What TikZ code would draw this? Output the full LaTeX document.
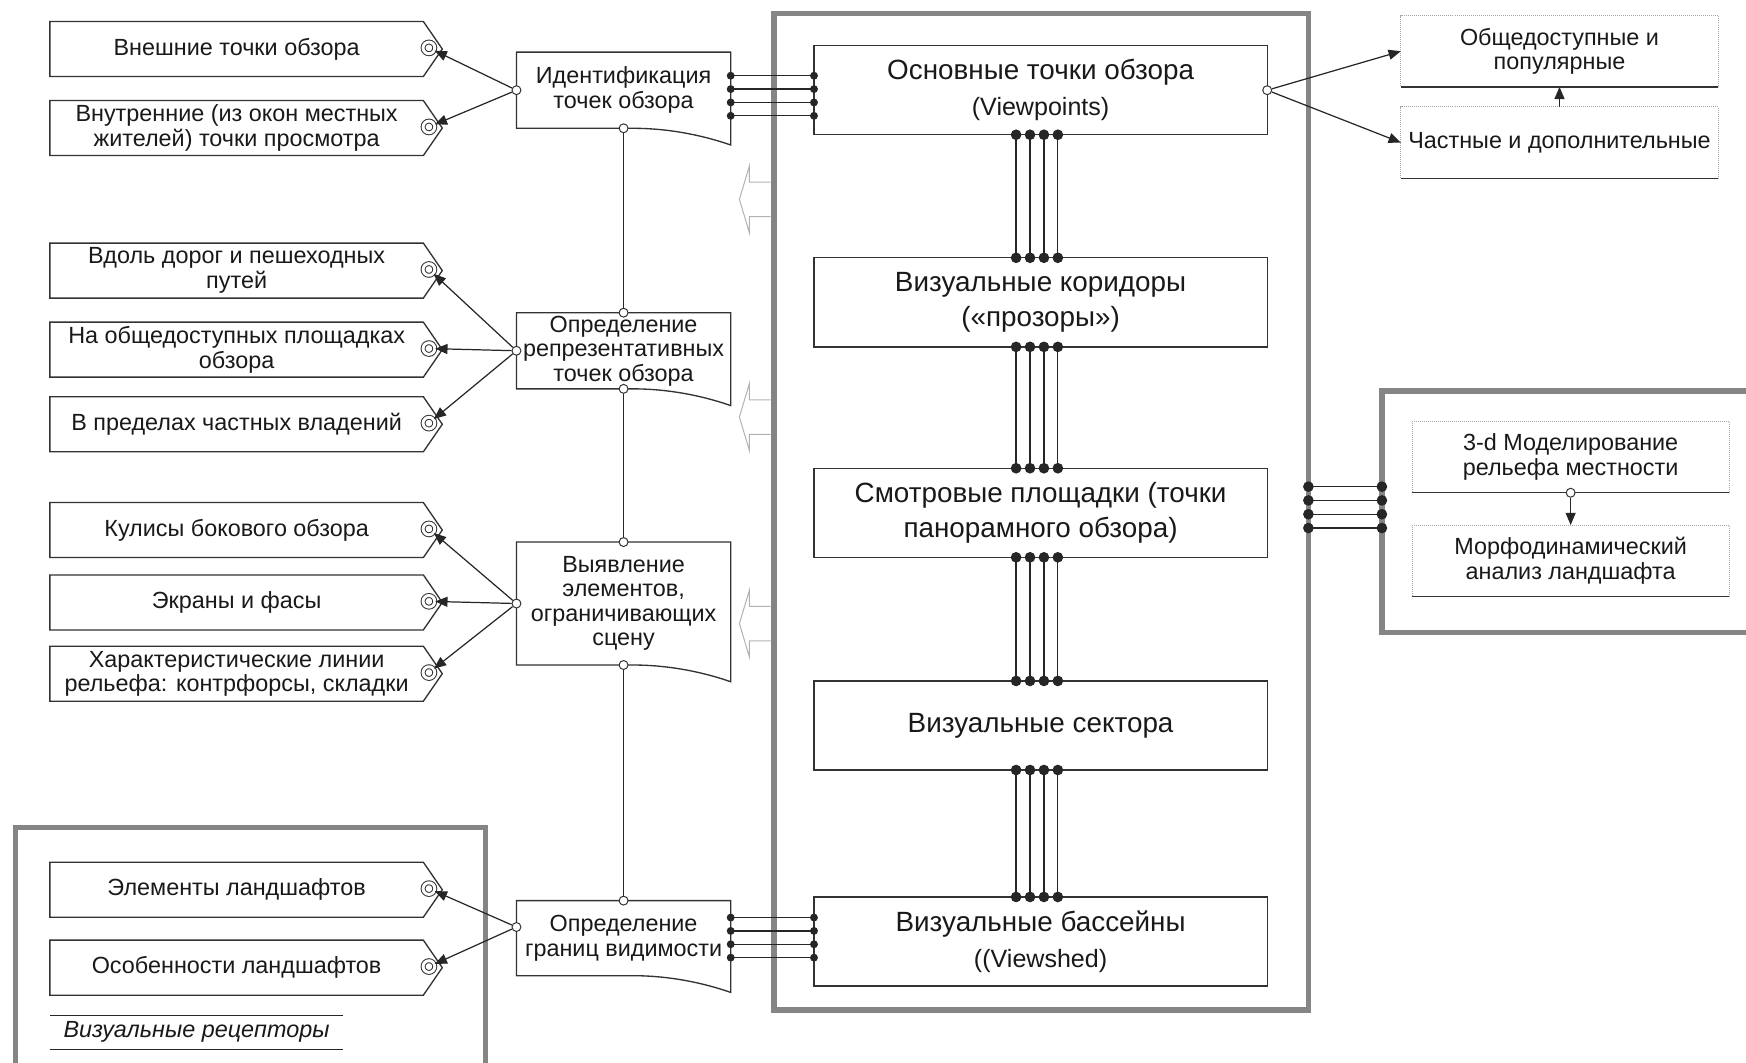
\documentclass[tikz,border=0pt]{standalone}
\usepackage{fontspec}
\setmainfont{Liberation Sans}
\usetikzlibrary{arrows.meta}
\newcommand{\fntTag}{\fontsize{21}{22}\selectfont}
\newcommand{\fntMain}{\fontsize{25}{32}\selectfont}
\newcommand{\fntSub}{\fontsize{22.5}{32}\selectfont}

\begin{document}
\begin{tikzpicture}[x=1pt,y=-1pt,
    outline/.style={draw=black!80, line width=1.2pt},
    wire/.style={draw=black!85, line width=1.1pt},
    arr/.style={wire, -{Triangle[length=11pt,width=9pt]}},
    tag/.style={minimum width=335pt, minimum height=49pt, inner sep=0pt, align=center, font=\fntTag, text=black!90},
    proc/.style={minimum width=192pt, inner sep=0pt, align=center, font=\fntTag, text=black!90},
    mbox/.style={outline, minimum width=407pt, minimum height=80pt, inner sep=0pt, outer sep=0pt, align=center, font=\fntMain, text=black!90},
    sbox/.style={draw=gray!70, densely dotted, line width=0.8pt, minimum width=285pt, minimum height=64pt, inner sep=0pt, outer sep=0pt, align=center, font=\fntTag, text=black!90},
    frame/.style={draw=black!48, line width=5pt, outer sep=0pt, inner sep=0pt},
    ring/.style={circle, draw=black!80, double=white, double distance=2.6pt, line width=0.9pt, minimum size=10.5pt, inner sep=0pt},
    port/.style={circle, draw=black!80, fill=white, line width=0.9pt, minimum size=8pt, inner sep=0pt},
    bigbus/.style={wire, {Circle[length=9.5pt]}-{Circle[length=9.5pt]}, shorten <=-4.75pt, shorten >=-4.75pt},
    smallbus/.style={wire, line width=1.2pt, {Circle[length=7pt]}-{Circle[length=7pt]}, shorten <=-3.5pt, shorten >=-3.5pt},
    hollow/.style={draw=black!30, line width=0.9pt}]
  \clip (0,0) rectangle (1568,954);

  % frames
  \node[frame, minimum width=480pt, minimum height=895pt] (fr) at (935,459.5) {};
  \node[frame, minimum width=360pt, minimum height=217pt] (rf) at (1421,459.5) {};
  \node[frame, minimum width=422pt, minimum height=240pt] (bf) at (225,863) {};

  % receptors on the left
  \foreach \nm/\yy/\txt in {t1/44/{Внешние точки обзора},
      t2/115/{Внутренние (из окон местных\\жителей) точки просмотра},
      t3/243/{Вдоль дорог и пешеходных\\путей},
      t4/314/{На общедоступных площадках\\обзора},
      t5/381/{В пределах частных  владений},
      t6/476/{Кулисы бокового обзора},
      t7/541/{Экраны и фасы},
      t8/605/{Характеристические линии\\рельефа: контрфорсы, складки},
      t9/799/{Элементы ландшафтов},
      t10/869/{Особенности ландшафтов}} {
    \node[tag] (\nm) at (212.5,\yy) {\txt};
    \draw[outline] (\nm.north west) -- (\nm.north east) -- ([xshift=17pt]\nm.east)
      -- (\nm.south east) -- (\nm.south west) -- cycle;
    \node[ring] (r\nm) at ([xshift=5pt,yshift=1pt]\nm.east) {};
  }

  \node[font=\fntTag\itshape, text=black!90, minimum width=263pt, minimum height=30pt, inner sep=0pt] (rec) at (176.5,927) {Визуальные рецепторы};
  \draw[wire] (rec.north west) -- (rec.north east) (rec.south west) -- (rec.south east);

  % processes
  \node[proc, minimum height=68pt] (pA) at (560,81) {Идентификация\\точек обзора};
  \node[proc, minimum height=68pt] (pB) at (560,315) {Определение\\репрезентативных\\точек обзора};
  \node[proc, minimum height=110pt] (pC) at (560,542) {Выявление\\элементов,\\ограничивающих\\сцену};
  \node[proc, minimum height=67pt] (pD) at (560,842.5) {Определение\\границ видимости};
  \foreach \p in {pA,pB,pC,pD}
    \draw[outline] (\p.south west) -- (\p.north west) -- (\p.north east) -- ([yshift=-15pt]\p.south east)
      .. controls ([xshift=-26pt,yshift=-6pt]\p.south east) and ([xshift=40pt]\p.south) .. ([xshift=8pt]\p.south) -- cycle;

  \node[port] (pAl) at (pA.west) {};
  \node[port] (pAb) at (pA.south) {};
  \node[port] (pBt) at (pB.north) {};
  \node[port] (pBl) at (pB.west) {};
  \node[port] (pBb) at (pB.south) {};
  \node[port] (pCt) at (pC.north) {};
  \node[port] (pCl) at (pC.west) {};
  \node[port] (pCb) at (pC.south) {};
  \node[port] (pDt) at (pD.north) {};
  \node[port] (pDl) at ([yshift=10pt]pD.west) {};

  \foreach \a/\b in {pAb/pBt, pBb/pCt, pCb/pDt}
    \draw[wire] (\a) -- (\b);
  \foreach \a/\b in {pAl/rt1, pAl/rt2, pBl/rt3, pBl/rt4, pBl/rt5, pCl/rt6, pCl/rt7, pCl/rt8, pDl/rt9, pDl/rt10}
    \draw[arr] (\a) -- (\b);

  % hollow arrows out of the frame
  \foreach \cy in {179,374.5,560}
    \draw[hollow] (692,\cy-15.5) -- (673,\cy-15.5) -- (673,\cy-30) -- (664,\cy)
      -- (673,\cy+30) -- (673,\cy+15.5) -- (692,\cy+15.5);

  % main chain
  \node[mbox] (osn) at (934.5,81) {Основные точки обзора\\{\fntSub (Viewpoints)}};
  \node[mbox] (kor) at (934.5,271.5) {Визуальные коридоры\\(«прозоры»)};
  \node[mbox] (smo) at (934.5,460.5) {Смотровые площадки (точки\\панорамного обзора)};
  \node[mbox] (sek) at (934.5,651.5) {Визуальные сектора};
  \node[mbox] (bas) at (934.5,845.5) {Визуальные бассейны\\{\fntSub ((Viewshed)}};

  \foreach \i in {0,...,3} {
    \coordinate (kx\i) at (912.5+12.5*\i,0);
    \coordinate (ka\i) at (0,68+12*\i);
    \coordinate (kd\i) at (0,824+12*\i);
    \coordinate (ky\i) at (0,437+12.4*\i);
    \draw[smallbus] (pA.east |- ka\i) -- (osn.west |- ka\i);
    \draw[smallbus] (pD.east |- kd\i) -- (bas.west |- kd\i);
    \draw[bigbus] (fr.east |- ky\i) -- (rf.west |- ky\i);
  }
  \foreach \a/\b in {osn/kor, kor/smo, smo/sek, sek/bas}
    \foreach \i in {0,...,3}
      \draw[bigbus] (\a.south -| kx\i) -- (\b.north -| kx\i);

  % right side
  \node[sbox] (r1) at (1400.5,46) {Общедоступные и\\популярные};
  \node[sbox] (r2) at (1400.5,128) {Частные и дополнительные};
  \node[sbox] (m3d) at (1410.5,410.5) {3-d Моделирование\\рельефа местности};
  \node[sbox] (morf) at (1410.5,503.5) {Морфодинамический\\анализ ландшафта};
  \foreach \b in {r1,r2,m3d,morf}
    \draw[outline] (\b.south west) -- (\b.south east);

  \node[port] (osnr) at (osn.east) {};
  \draw[arr] (osnr) -- (r1.west);
  \draw[arr] (osnr) -- (r2.west);
  \draw[arr] (r2.north) -- (r1.south);
  \node[port] (m3db) at (m3d.south) {};
  \draw[arr] (m3db) -- (morf.north);
\end{tikzpicture}
\end{document}
